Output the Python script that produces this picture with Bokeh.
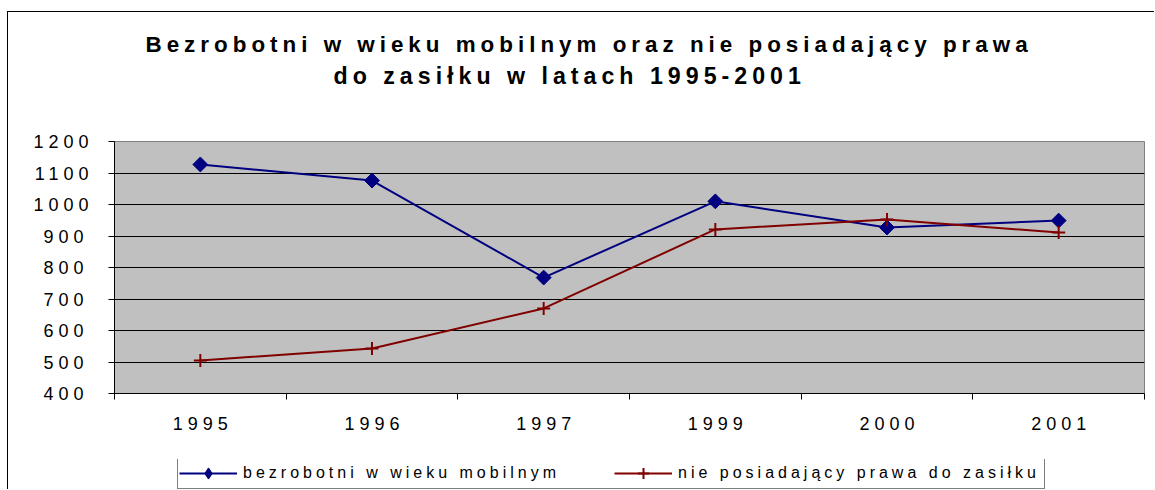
import numpy as np
from bokeh.plotting import figure
from bokeh.layouts import column
from bokeh.models import (Range1d, FactorRange, LinearAxis, FixedTicker, Title,
                          Legend, LegendItem, Grid)
from bokeh.embed import file_html
from bokeh.resources import INLINE

# ---- data ----
years = ["1995", "1996", "1997", "1999", "2000", "2001"]
bezrobotni_mobilni = [1127, 1076, 768, 1010, 927, 949]
bez_prawa_do_zasilku = [505, 543, 670, 921, 952, 911]
y_ticks = [400, 500, 600, 700, 800, 900, 1000, 1100, 1200]
title_lines = ["Bezrobotni w wieku mobilnym oraz nie posiadający prawa",
               "do zasiłku w latach 1995-2001"]
series_names = ["bezrobotni w wieku mobilnym", "nie posiadający prawa do zasiłku"]

FONT = "Liberation Sans"
LS = 5          # letter spacing of the chart texts (px)
LS_LEGEND = 4.0
NAVY = "#000080"
MAROON = "#800000"

p = figure(width=1146, height=447,
           x_range=FactorRange(factors=years, range_padding=0),
           y_range=Range1d(400, 1200),
           x_axis_type=None, y_axis_type=None,
           output_backend="svg", toolbar_location=None,
           min_border_left=106, min_border_right=10,
           min_border_top=129, min_border_bottom=66,
           background_fill_color="#C0C0C0", border_fill_color="white",
           outline_line_color="#808080", outline_line_width=1)
p.xgrid.visible = False
p.ygrid.visible = False

# y axis
yaxis = LinearAxis(ticker=FixedTicker(ticks=y_ticks, minor_ticks=[]),
                   major_tick_out=6, major_tick_in=0,
                   minor_tick_out=0, minor_tick_in=0,
                   axis_line_color="black", major_tick_line_color="black",
                   major_label_standoff=35,
                   major_label_text_font=FONT, major_label_text_font_size="18px",
                   major_label_text_color="black")
p.add_layout(yaxis, "left")
p.add_layout(Grid(dimension=1, ticker=yaxis.ticker, grid_line_color="black",
                  grid_line_width=1))

# x axis: labels at category centres, tick marks at category boundaries
n = len(years)
shift = 1.5 * LS / (1030 / n)
centers = [i + 0.5 - shift for i in range(n)]
bounds = [float(i) for i in range(n + 1)]
xaxis = LinearAxis(ticker=FixedTicker(ticks=centers, minor_ticks=bounds),
                   major_label_overrides={c: y for c, y in zip(centers, years)},
                   major_tick_out=0, major_tick_in=0,
                   minor_tick_out=6, minor_tick_in=0,
                   axis_line_color="black", minor_tick_line_color="black",
                   major_label_standoff=17,
                   major_label_text_font=FONT, major_label_text_font_size="18px",
                   major_label_text_color="black")
p.add_layout(xaxis, "below")

# series
p.line(years, bezrobotni_mobilni, line_color=NAVY, line_width=2)
p.scatter(years, bezrobotni_mobilni, marker="square", angle=np.pi / 4,
          size=10.5, fill_color=NAVY, line_color=NAVY)
p.line(years, bez_prawa_do_zasilku, line_color=MAROON, line_width=2)
p.scatter(years, bez_prawa_do_zasilku, marker="cross", size=13,
          line_color=MAROON, line_width=2)

# titles (stacked upward from the plot area; first one is a blank spacer)
spacer = Title(text=" ", standoff=40, text_font=FONT, text_font_size="10px")
t2 = Title(text=title_lines[1], align="left", offset=219, standoff=0,
           text_font=FONT, text_font_size="23.2px", text_font_style="bold",
           text_color="black")
t1 = Title(text=title_lines[0], align="left", offset=31, standoff=7,
           text_font=FONT, text_font_size="22.4px", text_font_style="bold",
           text_color="black")
p.add_layout(spacer, "above")
p.add_layout(t2, "above")
p.add_layout(t1, "above")

# ---- legend strip (own small figure; its glyphs lie outside its view) ----
lf = figure(width=1146, height=30,
            x_range=FactorRange(factors=years, range_padding=0),
            y_range=Range1d(0, 1),
            x_axis_type=None, y_axis_type=None,
            output_backend="svg", toolbar_location=None,
            min_border_left=0, min_border_right=0,
            min_border_top=0, min_border_bottom=0,
            background_fill_color="white", border_fill_color="white",
            outline_line_color=None,
            styles={"letter-spacing": f"{LS_LEGEND}px"})
l1 = lf.line(years, bezrobotni_mobilni, line_color=NAVY, line_width=2)
m1 = lf.scatter(years, bezrobotni_mobilni, marker="diamond", size=13,
                fill_color=NAVY, line_color=NAVY)
l2 = lf.line(years, bez_prawa_do_zasilku, line_color=MAROON, line_width=2)
m2 = lf.scatter(years, bez_prawa_do_zasilku, marker="cross", size=13,
                line_color=MAROON, line_width=2)
legend = Legend(items=[LegendItem(label=series_names[0], renderers=[l1, m1]),
                       LegendItem(label=series_names[1], renderers=[l2, m2])],
                location=(63, 0), orientation="horizontal",
                padding=1, spacing=6, margin=0,
                glyph_width=58, glyph_height=28,
                label_standoff=6, label_width=365, label_height=28,
                border_line_color="black", border_line_width=1,
                background_fill_color="white", background_fill_alpha=1,
                label_text_font=FONT, label_text_font_size="16px",
                label_text_color="black")
lf.add_layout(legend, "center")

layout = column(p, lf, spacing=0,
                styles={"letter-spacing": f"{LS}px",
                        "margin-left": "7px", "margin-top": "11px",
                        "border-left": "1px solid black",
                        "border-top": "1px solid black"})

open("out.html", "w").write(file_html(layout, INLINE))
